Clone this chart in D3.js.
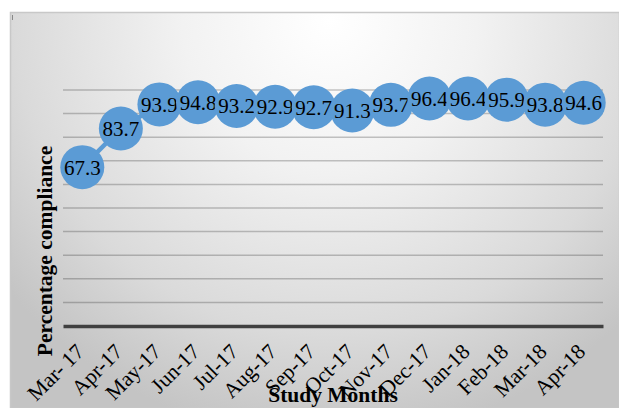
<!DOCTYPE html>
<html>
<head>
<meta charset="utf-8">
<script src="https://cdn.jsdelivr.net/npm/d3@7"></script>
<style>
  html, body { margin: 0; padding: 0; background: #ffffff; }
  svg { display: block; }
</style>
</head>
<body>
<svg id="chart" width="619" height="408"></svg>
<script>
// Monthly compliance rates over the study period
const months = ["Mar- 17", "Apr-17", "May-17", "Jun-17", "Jul-17", "Aug-17", "Sep-17",
                "Oct-17", "Nov-17", "Dec-17", "Jan-18", "Feb-18", "Mar-18", "Apr-18"];
const compliance = [67.3, 83.7, 93.9, 94.8, 93.2, 92.9, 92.7, 91.3, 93.7, 96.4, 96.4, 95.9, 93.8, 94.6];
const gridTicks = [10, 20, 30, 40, 50, 60, 70, 80, 90, 100];

const svg = d3.select("#chart");
const W = 619, H = 408;
const margin = { left: 63, right: 16, top: 90, bottom: 82 };
const serif = "'Liberation Serif', 'Times New Roman', serif";

// Chart area background: soft radial shading
const defs = svg.append("defs");
const grad = defs.append("radialGradient")
  .attr("id", "bg")
  .attr("gradientUnits", "userSpaceOnUse")
  .attr("cx", 330).attr("cy", 20).attr("r", 420);
grad.append("stop").attr("offset", 0).attr("stop-color", "#ffffff");
grad.append("stop").attr("offset", 0.35).attr("stop-color", "#f2f2f2");
grad.append("stop").attr("offset", 0.75).attr("stop-color", "#dadada");
grad.append("stop").attr("offset", 1).attr("stop-color", "#c4c4c4");

svg.append("rect")
  .attr("x", 10.5).attr("y", 12.5)
  .attr("width", W - 10).attr("height", H - 12)
  .attr("fill", "url(#bg)")
  .attr("stroke", "#c8c8c8").attr("stroke-width", 1.5);

svg.append("line")
  .attr("x1", 12.5).attr("x2", 12.5).attr("y1", 15).attr("y2", 20)
  .attr("stroke", "#888").attr("stroke-width", 1);

const x = d3.scaleBand()
  .domain(months)
  .range([margin.left, W - margin.right]);

const y = d3.scaleLinear()
  .domain([0, 100])
  .range([H - margin.bottom, margin.top]);

// Horizontal gridlines
svg.append("g")
  .selectAll("line")
  .data(gridTicks)
  .join("line")
  .attr("x1", margin.left).attr("x2", W - margin.right)
  .attr("y1", d => y(d)).attr("y2", d => y(d))
  .attr("stroke", "#000").attr("stroke-opacity", 0.22).attr("stroke-width", 1.5);

// Category axis
const xAxis = svg.append("g")
  .attr("transform", `translate(0,${y(0)})`)
  .call(d3.axisBottom(x).tickSize(0).tickPadding(0));
xAxis.select(".domain")
  .attr("stroke", "#404040").attr("stroke-width", 3.5);
xAxis.selectAll(".tick text")
  .attr("font-family", serif)
  .attr("font-size", 21.5)
  .attr("fill", "#000")
  .attr("text-anchor", "end")
  .attr("y", 0)
  .attr("dy", 0)
  .attr("transform", "translate(3,27) rotate(-45)");

// Series line
const line = d3.line()
  .x((d, i) => x(months[i]) + x.bandwidth() / 2)
  .y(d => y(d));

svg.append("path")
  .datum(compliance)
  .attr("d", line)
  .attr("fill", "none")
  .attr("stroke", "#5b9bd5")
  .attr("stroke-width", 4.5);

// Markers with value labels
const pts = svg.append("g")
  .selectAll("g")
  .data(compliance)
  .join("g")
  .attr("transform", (d, i) => `translate(${x(months[i]) + x.bandwidth() / 2},${y(d)})`);

pts.append("circle")
  .attr("r", 22)
  .attr("fill", "#5b9bd5");

pts.append("text")
  .text(d => d)
  .attr("text-anchor", "middle")
  .attr("dy", "0.35em")
  .attr("font-family", serif)
  .attr("font-size", 21)
  .attr("fill", "#000");

// Axis titles
svg.append("text")
  .attr("transform", `translate(52,251) rotate(-90)`)
  .attr("text-anchor", "middle")
  .attr("font-family", serif)
  .attr("font-weight", "bold")
  .attr("font-size", 21.5)
  .attr("fill", "#000")
  .text("Percentage compliance");

svg.append("text")
  .attr("x", 333).attr("y", 402)
  .attr("text-anchor", "middle")
  .attr("font-family", serif)
  .attr("font-weight", "bold")
  .attr("font-size", 21.5)
  .attr("fill", "#000")
  .text("Study Months");
</script>
</body>
</html>
